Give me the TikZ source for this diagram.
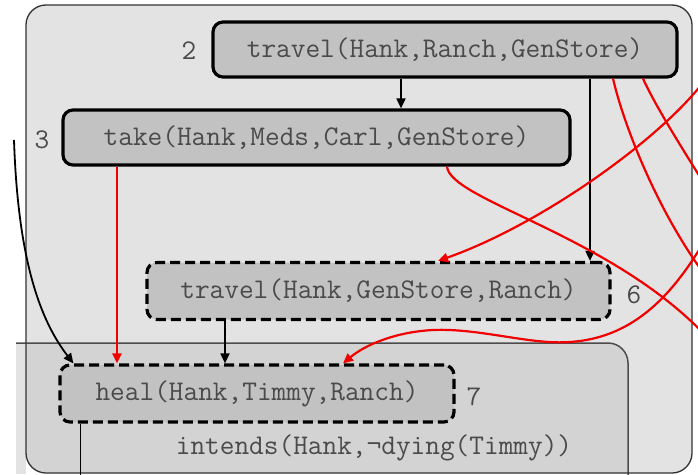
\documentclass[tikz,border=0pt]{standalone}
\usetikzlibrary{arrows.meta,calc}
\definecolor{outerfill}{HTML}{E3E3E3}
\definecolor{innerfill}{HTML}{D3D3D3}
\definecolor{nodefill}{HTML}{C2C2C2}
\definecolor{txt}{HTML}{4A4A4A}
\definecolor{redline}{HTML}{F20000}
\begin{document}
\begin{tikzpicture}[x=1pt,y=-1pt,
  act/.style={draw=black, line width=3.2pt, fill=nodefill, rounded corners=10pt,
    font=\ttfamily\fontsize{28.5}{30}\selectfont, text=txt, inner sep=0pt},
  solidact/.style={act},
  dashact/.style={act, dash pattern=on 10pt off 5pt},
  numlbl/.style={font=\ttfamily\fontsize{28.5}{30}\selectfont, text=txt},
  blkarrow/.style={draw=black, line width=1.8pt, -{Triangle[length=10pt,width=9pt]}},
  blkline/.style={draw=black, line width=1.8pt},
  redarrow/.style={draw=redline, line width=2.2pt, -{Triangle[length=10pt,width=9pt]}},
  redline/.style={draw=redline, line width=2.2pt},
  boxline/.style={line width=1.3pt, draw=black!80, rounded corners=20pt}
]
\useasboundingbox (0,0) rectangle (698,474);
\clip (0,0) rectangle (698,474);
% containers
\fill[outerfill] (16,343) rectangle (26,474);
\fill[outerfill, rounded corners=20pt] (26,5) rectangle (692,473);
\begin{scope}
  \clip[rounded corners=20pt] (26,5) rectangle (692,473);
  \fill[innerfill, rounded corners=20pt] (0,343) -- (628,343) -- (628,490) -- (0,490) -- cycle;
\end{scope}
\draw[line width=1.5pt, draw=black!70, rounded corners=20pt] (16,343) -- (628,343) -- (628,490);
\draw[boxline] (26,5) rectangle (692,473);

% actions
\node[solidact, minimum width=464pt, minimum height=55pt] (n2) at (445,49.5) {travel(Hank,Ranch,GenStore)};
\node[solidact, minimum width=507pt, minimum height=55pt] (n3) at (316.5,137.5) {take(Hank,Meds,Carl,GenStore)};
\node[dashact, minimum width=463pt, minimum height=57pt] (n6) at (378.5,291) {travel(Hank,GenStore,Ranch)};
\node[dashact, minimum width=394pt, minimum height=57pt] (n7) at (257,393.5) {heal(Hank,Timmy,Ranch)};

\node[numlbl] (l2) at (189,51) {2};
\node[numlbl] (l3) at (42,140) {3};
\node[numlbl] (l6) at (634,295) {6};
\node[numlbl] (l7) at (474,397) {7};
\node[numlbl] (goal) at (374,448) {intends(Hank,¬dying(Timmy))};

% free ends
\coordinate (leftin) at (14,140);
\coordinate (healout) at (82,480);
\coordinate (outA) at (705,275);
\coordinate (outB) at (705,185);
\coordinate (inC) at (705,80);
\coordinate (outD) at (705,335);
\coordinate (inE) at (705,240);

% black causal links
\draw[blkarrow] ([xshift=-44pt]n2.south) -- ([xshift=-44pt]n2.south |- n3.north);
\draw[blkarrow] ([xshift=145pt]n2.south) -- ([xshift=145pt]n2.south |- n6.north);
\draw[blkarrow] ([xshift=-153.5pt]n6.south) -- ([xshift=-153.5pt]n6.south |- n7.north);
\draw[blkarrow] (leftin) .. controls (18,260) and (40,320) .. ([xshift=15pt]n7.north west);
\draw[blkline] ([xshift=22pt]n7.south west) -- ([xshift=22pt]n7.south west |- healout);

% red links
\draw[redarrow] ([xshift=-199.5pt]n3.south) -- ([xshift=-199.5pt]n3.south |- n7.north);
\draw[redline] ([xshift=168pt]n2.south) .. controls (625,130) and (660,215) .. (outA);
\draw[redline] ([xshift=198pt]n2.south) .. controls (655,105) and (680,145) .. (outB);
\draw[redarrow] (inC) .. controls (660,140) and (540,225) .. ([xshift=59.5pt]n6.north);
\draw[redline] ([xshift=130.5pt]n3.south) .. controls (450,200) and (610,235) .. (outD);
\draw[redarrow] (inE) .. controls (670,300) and (630,338) .. (570,342)
  .. controls (530,345) and (480,328) .. (433,330)
  .. controls (395,332) and (365,345) .. ([xshift=86pt]n7.north);
\end{tikzpicture}
\end{document}
